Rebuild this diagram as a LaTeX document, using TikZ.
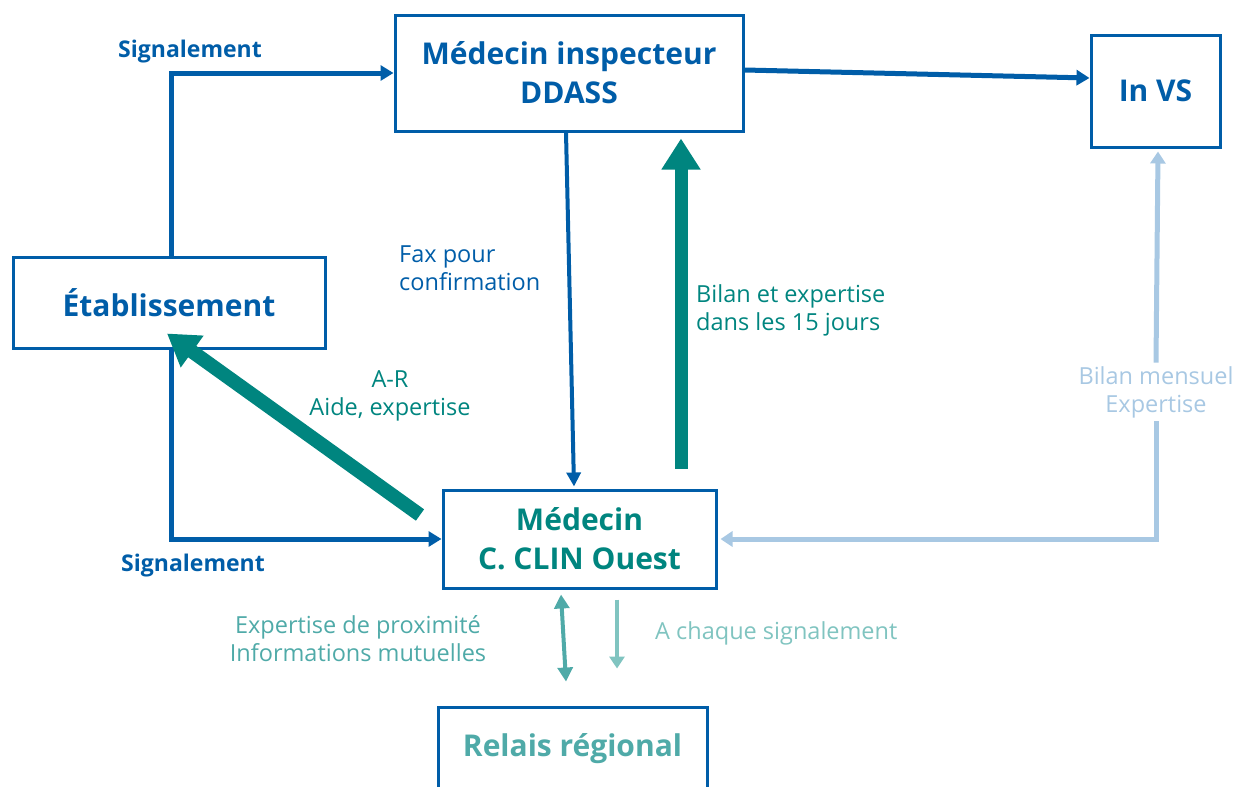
\documentclass[tikz,border=0pt]{standalone}
\usepackage{fontspec}
\setmainfont{Open Sans}
\usetikzlibrary{arrows.meta}
\definecolor{ddassblue}{RGB}{0,93,168}
\definecolor{clinteal}{RGB}{0,133,127}
\definecolor{relaisteal}{RGB}{79,170,168}
\definecolor{paleteal}{RGB}{128,196,192}
\definecolor{paleblue}{RGB}{168,200,227}
\tikzset{
  box/.style={draw=ddassblue,line width=3pt,fill=white,align=center,inner sep=0pt,
    font=\bfseries\fontsize{30}{39}\selectfont},
  lbl/.style={font=\fontsize{23.5}{28}\selectfont},
  siglbl/.style={font=\bfseries\fontsize{23}{26}\selectfont,text=ddassblue},
  flow/.style={draw=ddassblue,line width=5pt,-{Triangle[length=13pt,width=15pt]}},
  bigflow/.style={draw=clinteal,line width=13pt,-{Triangle[length=31pt,width=37pt]}}
}
\begin{document}
\begin{tikzpicture}[x=1pt,y=-1pt]
  \useasboundingbox (0,0) rectangle (1237,787);
  \clip (0,0) rectangle (1237,787);
  \node[box,text=ddassblue,minimum width=348pt,minimum height=116pt] (ddass) at (569,73) {Médecin inspecteur\\DDASS};
  \node[box,text=ddassblue,minimum width=129pt,minimum height=112pt] (invs) at (1155.5,91) {In VS};
  \node[box,text=ddassblue,minimum width=312pt,minimum height=91pt] (etab) at (169,302.5) {Établissement};
  \node[box,text=clinteal,minimum width=273pt,minimum height=98pt] (clin) at (579.5,539) {Médecin\\C. CLIN Ouest};
  \node[box,text=relaisteal,minimum width=269pt,minimum height=83pt] (relais) at (572.5,748.5) {Relais régional};

  \draw[flow] ([xshift=2pt]etab.north) |- (ddass.west);
  \draw[flow] ([xshift=2pt]etab.south) |- (clin.west);
  \draw[flow] ([yshift=3pt]ddass.east) -- ([yshift=13pt]invs.west);
  \draw[flow,line width=4pt,-{Triangle[length=14pt,width=14pt]}] ([xshift=-3pt]ddass.south) -- ([xshift=-5.5pt,yshift=2pt]clin.north);
  \draw[bigflow] ([xshift=101.5pt,yshift=20pt]clin.north) -- ([xshift=112pt,yshift=-6pt]ddass.south);
  \coordinate (artail) at (420,515);
  \draw[bigflow,line width=14pt] (artail) -- ([xshift=-2pt,yshift=16pt]etab.south);

  \node[lbl,text=paleblue,align=center] (bilan) at (1156,392) {Bilan mensuel\\Expertise};
  \draw[draw=paleblue,line width=5pt,-{Triangle[length=12pt,width=15pt]}] (bilan.south) |- ([xshift=3pt]clin.east);
  \draw[draw=paleblue,line width=5pt,-{Triangle[length=12pt,width=15pt]}] (bilan.north) -- ([xshift=2.5pt,yshift=-3pt]invs.south);

  \draw[draw=relaisteal,line width=4pt,{Triangle[length=14pt,width=15pt]}-{Triangle[length=14pt,width=15pt]}]
    ([xshift=-18.5pt,yshift=-5pt]clin.south) -- ([xshift=-6.5pt,yshift=24pt]relais.north);
  \draw[draw=paleteal,line width=4pt,-{Triangle[length=12pt,width=15pt]}]
    ([xshift=37.5pt,yshift=-10pt]clin.south) -- ([xshift=44.5pt,yshift=37pt]relais.north);

  \node[siglbl] (sigtop) at (190,52) {Signalement};
  \node[siglbl] (sigbot) at (193,566) {Signalement};
  \node[lbl,text=ddassblue,align=left,anchor=west,inner sep=0pt] (fax) at (399,268) {Fax pour\\confirmation};
  \node[lbl,text=clinteal,align=left,anchor=west,inner sep=0pt] (bilan15) at (696,310) {Bilan et expertise\\dans les 15 jours};
  \node[lbl,text=clinteal,align=center] (aide) at (390,396) {A-R\\Aide, expertise};
  \node[lbl,text=relaisteal,align=center] (proxi) at (358,639) {Expertise de proximité\\Informations mutuelles};
  \node[lbl,text=paleteal,anchor=west,inner sep=0pt] (chaque) at (655,633) {A chaque signalement};
\end{tikzpicture}
\end{document}
